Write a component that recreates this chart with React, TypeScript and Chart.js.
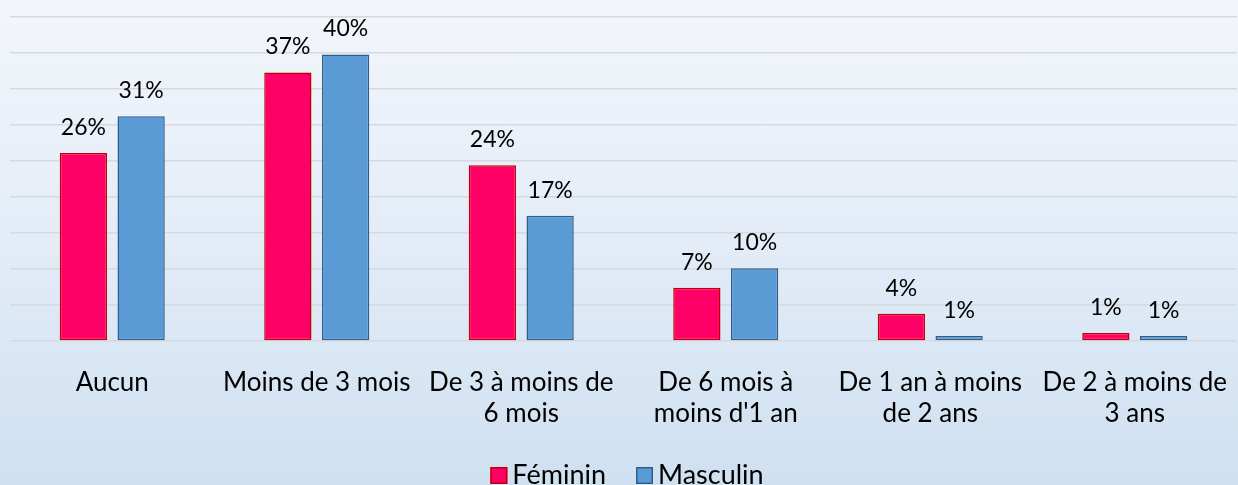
import React, { useEffect, useRef } from "react";
import { Chart, registerables } from "chart.js";

Chart.register(...registerables);

const categories: (string | string[])[] = [
  "Aucun",
  "Moins de 3 mois",
  ["De 3 à moins de", "6 mois"],
  ["De 6 mois à", "moins d'1 an"],
  ["De 1 an à moins", "de 2 ans"],
  ["De 2 à moins de", "3 ans"],
];

const femininValues = [26.1, 37.3, 24.4, 7.4, 3.8, 1.1];
const masculinValues = [31.2, 39.8, 17.4, 10.1, 0.7, 0.7];
const seriesNames = ["Féminin", "Masculin"];

const W = 1238;
const H = 485;
const FONT = "Lato, 'Open Sans', sans-serif";

const dataLabelPlugin = {
  id: "dataLabels",
  afterDatasetsDraw(chart: any) {
    const ctx = chart.ctx;
    ctx.save();
    ctx.font = `23px ${FONT}`;
    ctx.fillStyle = "#000";
    ctx.textAlign = "center";
    ctx.textBaseline = "alphabetic";
    chart.data.datasets.forEach((ds: any, i: number) => {
      const meta = chart.getDatasetMeta(i);
      meta.data.forEach((bar: any, j: number) => {
        const v = ds.data[j];
        ctx.fillText(`${Math.round(v)}%`, bar.x, bar.y - 18);
      });
    });
    ctx.restore();
  },
};

const legendPlugin = {
  id: "customLegend",
  afterDraw(chart: any) {
    const ctx = chart.ctx;
    ctx.save();
    ctx.font = `27px ${FONT}`;
    ctx.textBaseline = "alphabetic";
    ctx.textAlign = "left";
    const box = 17;
    const gapBoxText = 5;
    const gapItems = 30;
    const items = chart.data.datasets.map((ds: any) => ({
      label: ds.label,
      fill: ds.backgroundColor,
      stroke: ds.borderColor,
      w: ctx.measureText(ds.label).width,
    }));
    const total =
      items.reduce((s: number, it: any) => s + box + gapBoxText + it.w, 0) +
      gapItems * (items.length - 1);
    let x = 627 - total / 2;
    const boxTop = 467;
    const baseline = 484;
    items.forEach((it: any) => {
      ctx.fillStyle = it.fill;
      ctx.fillRect(x, boxTop, box, box);
      ctx.strokeStyle = it.stroke;
      ctx.lineWidth = 1.5;
      ctx.strokeRect(x + 0.75, boxTop + 0.75, box - 1.5, box - 1.5);
      x += box + gapBoxText;
      ctx.fillStyle = "#000";
      ctx.fillText(it.label, x, baseline);
      x += it.w + gapItems;
    });
    ctx.restore();
  },
};

export default function App() {
  const ref = useRef<HTMLCanvasElement | null>(null);

  useEffect(() => {
    if (!ref.current) return;
    const chart = new Chart(ref.current, {
      type: "bar",
      data: {
        labels: categories,
        datasets: [
          {
            label: seriesNames[0],
            data: femininValues,
            backgroundColor: "#FF0066",
            borderColor: "#C00000",
            borderWidth: 1.5,
            borderSkipped: false,
            categoryPercentage: 0.565,
            barPercentage: 0.818,
          },
          {
            label: seriesNames[1],
            data: masculinValues,
            backgroundColor: "#5B9BD5",
            borderColor: "#2F5E8C",
            borderWidth: 1.5,
            borderSkipped: false,
            categoryPercentage: 0.565,
            barPercentage: 0.818,
          },
        ],
      },
      options: {
        responsive: false,
        animation: false,
        layout: { padding: { left: 10, right: 1, top: 17, bottom: 0 } },
        plugins: {
          legend: { display: false },
          tooltip: { enabled: false },
        },
        scales: {
          x: {
            grid: { display: false, drawTicks: false },
            border: { display: false },
            ticks: {
              color: "#000",
              font: { family: FONT, size: 26, lineHeight: 1.2 },
              padding: 26,
              maxRotation: 0,
              autoSkip: false,
            },
            afterFit: (scale: any) => {
              scale.height = 144;
              scale.paddingLeft = 0;
              scale.paddingRight = 0;
            },
          },
          y: {
            min: 0,
            max: 45,
            ticks: { display: false, stepSize: 5 },
            grid: { color: "#D6D9DD", lineWidth: 1.5, drawTicks: false },
            border: { display: false },
            afterFit: (scale: any) => {
              scale.width = 0;
            },
          },
        },
      },
      plugins: [dataLabelPlugin, legendPlugin],
    });
    return () => chart.destroy();
  }, []);

  return (
    <div
      style={{
        position: "absolute",
        left: 0,
        top: 0,
        width: W,
        height: H,
        background: "linear-gradient(to bottom, #F3F6FB 0%, #E3ECF7 50%, #CFE0F1 100%)",
        overflow: "hidden",
      }}
    >
      <canvas ref={ref} width={W} height={H} style={{ display: "block" }} />
    </div>
  );
}
